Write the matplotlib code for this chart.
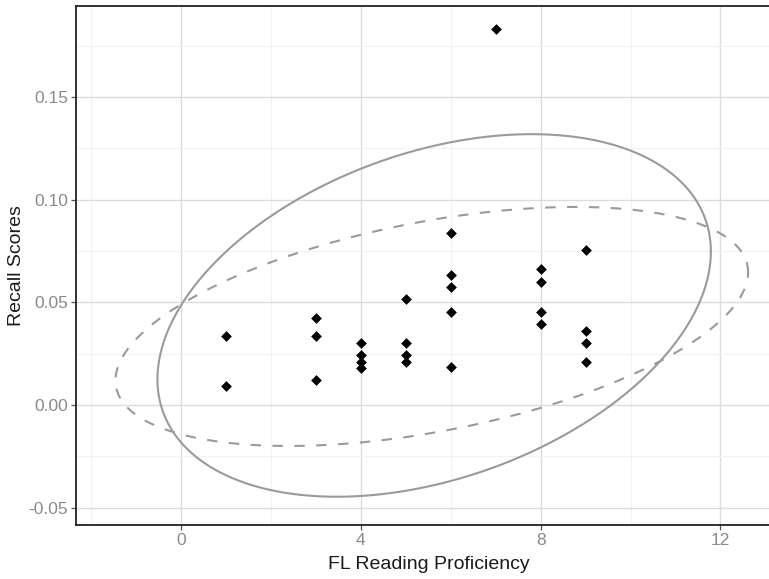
import numpy as np
import matplotlib.pyplot as plt
from matplotlib.ticker import FixedLocator, FormatStrFormatter

plt.rcParams['font.family'] = ['Liberation Sans', 'DejaVu Sans']

# FL reading proficiency (x) and recall scores (y), one entry per learner
reading = [1, 1,
           3, 3, 3,
           4, 4, 4, 4,
           5, 5, 5, 5,
           6, 6, 6, 6, 6,
           7,
           8, 8, 8, 8,
           9, 9, 9, 9]
recall = [0.0336, 0.0093,
          0.0422, 0.0336, 0.0123,
          0.0302, 0.0244, 0.0208, 0.0182,
          0.0515, 0.0302, 0.0244, 0.0208,
          0.0840, 0.0634, 0.0575, 0.0455, 0.0185,
          0.1831,
          0.0661, 0.0601, 0.0455, 0.0396,
          0.0755, 0.0362, 0.0304, 0.0211]

LEVEL_ALL = 0.95        # solid: all learners
LEVEL_TRIMMED = 0.975   # dashed: outlier removed
ELLIPSE_GREY = '#9a9a9a'


def ellipse_path(X, level, segments=200):
    # normal-theory data ellipse, radius from F(2, n-1) like stat_ellipse
    n_obs = len(X)
    center = X.mean(axis=0)
    cov = np.cov(X, rowvar=False)
    dfd = n_obs - 1
    fq = dfd / 2 * ((1 - level) ** (-2 / dfd) - 1)   # closed form for dfn = 2
    radius = np.sqrt(2 * fq)
    theta = np.linspace(0, 2 * np.pi, segments + 1)
    circle = np.column_stack([np.cos(theta), np.sin(theta)])
    L = np.linalg.cholesky(cov)
    return center + radius * circle @ L.T


X = np.column_stack([reading, recall])
trimmed = np.delete(X, np.argmax(recall), axis=0)

ell_all = ellipse_path(X, LEVEL_ALL)
ell_trim = ellipse_path(trimmed, LEVEL_TRIMMED)

fig = plt.figure(figsize=(7.69, 5.79), dpi=100)
W, H = 769, 579
# panel runs slightly past the right edge of the canvas
ax = fig.add_axes([76 / W, 54 / H, (782 - 76) / W, (573 - 54) / H])

ax.plot(ell_all[:, 0], ell_all[:, 1], color=ELLIPSE_GREY, lw=1.5, zorder=2)
ax.plot(ell_trim[:, 0], ell_trim[:, 1], color=ELLIPSE_GREY, lw=1.5,
        dashes=(5, 5.5), zorder=2)
ax.scatter(reading, recall, marker='D', s=30, color='black',
           linewidths=0, zorder=3)

ax.set_xlim(-2.34, 13.37)
ax.set_ylim(-0.0584, 0.1943)

ax.set_xticks([0, 4, 8, 12])
ax.set_yticks([-0.05, 0.0, 0.05, 0.10, 0.15])
ax.yaxis.set_major_formatter(FormatStrFormatter('%.2f'))
ax.xaxis.set_minor_locator(FixedLocator([-2, 2, 6, 10]))
ax.yaxis.set_minor_locator(FixedLocator([-0.025, 0.025, 0.075, 0.125, 0.175]))

ax.grid(which='major', color='#dcdcdc', lw=1.0)
ax.grid(which='minor', color='#f1f1f1', lw=0.8)
ax.set_axisbelow(True)

ax.tick_params(which='major', length=3.5, width=0.9, color='#555555',
               labelcolor='#8a8a8a', labelsize=12.5, pad=2)
ax.tick_params(which='minor', length=0)
for side in ax.spines.values():
    side.set_color('#222222')
    side.set_linewidth(1.3)

ax.set_xlabel('FL Reading Proficiency', fontsize=14, color='#1a1a1a', labelpad=6)
ax.set_ylabel('Recall Scores', fontsize=14, color='#1a1a1a', labelpad=3)

fig.savefig('out.png', dpi=100)
